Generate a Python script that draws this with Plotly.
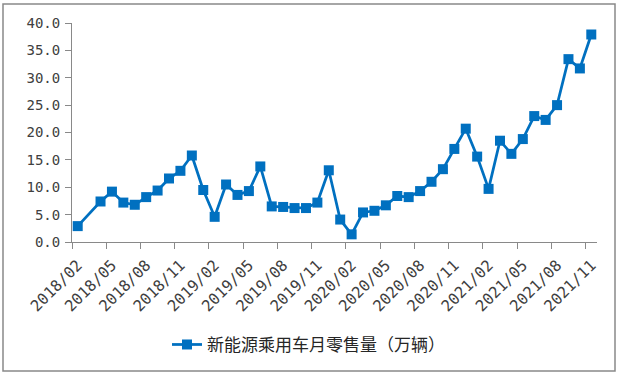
import plotly.graph_objects as go

months = []
for y in range(2018, 2022):
    for m in range(1, 13):
        if (y == 2018 and m < 2) or (y == 2021 and m > 11):
            continue
        months.append(f"{y}/{m:02d}")

values = [2.9, None, 7.4, 9.2, 7.2, 6.8, 8.2, 9.4, 11.6, 13.0, 15.8, 9.5,
          4.6, 10.5, 8.6, 9.3, 13.8, 6.5, 6.4, 6.2, 6.2, 7.2, 13.1, 4.1,
          1.4, 5.4, 5.7, 6.7, 8.4, 8.2, 9.3, 11.0, 13.3, 17.0, 20.7, 15.6,
          9.7, 18.5, 16.1, 18.8, 23.0, 22.3, 25.0, 33.4, 31.7, 37.9]

series_name = "新能源乘用车月零售量（万辆）"
y_ticks = [0, 5, 10, 15, 20, 25, 30, 35, 40]

idx = list(range(len(months)))
label_idx = idx[::3]
label_text = [months[i] for i in label_idx]

blue = "#0070C0"
axis_col = "#898989"
text_col = "#404040"
y_font = dict(family="DejaVu Sans Mono", size=14, color=text_col)
x_font = dict(family="DejaVu Sans Mono", size=15.5, color=text_col)

fig = go.Figure()
fig.add_trace(go.Scatter(
    x=idx, y=values, mode="lines+markers", name=series_name,
    connectgaps=True,
    line=dict(color=blue, width=2.75),
    marker=dict(symbol="square", size=10, color=blue),
))

fig.update_layout(
    width=620, height=377,
    margin=dict(l=72, r=23, t=23, b=135),
    paper_bgcolor="white", plot_bgcolor="white",
    font=y_font,
    showlegend=True,
    legend=dict(orientation="h", x=0.4505, xanchor="center", y=-0.47, yanchor="middle",
                font=dict(family="Noto Sans CJK SC", size=17, color="#262626"),
                itemwidth=30),
    xaxis=dict(range=[-0.5, len(months) - 0.5], tickmode="array",
               tickvals=label_idx, ticktext=label_text, tickangle=-45,
               ticks="", showgrid=False, zeroline=False,
               showline=True, linecolor=axis_col, linewidth=1,
               ticklabelstandoff=7,
               minor=dict(tickmode="array", tickvals=[i - 0.5 for i in label_idx],
                          ticks="outside", ticklen=6, tickcolor=axis_col, showgrid=False),
               tickfont=x_font),
    yaxis=dict(range=[0, 40], tickmode="array", tickvals=y_ticks,
               ticktext=[f"{v:.1f}" for v in y_ticks],
               ticks="outside", ticklen=6, tickcolor=axis_col,
               showgrid=False, zeroline=False,
               showline=True, linecolor=axis_col, linewidth=1,
               ticklabelstandoff=2,
               tickfont=y_font),
    shapes=[dict(type="rect", xref="paper", yref="paper",
                 x0=(3 - 72) / 525, x1=(615 - 72) / 525,
                 y0=(242 - 371) / 219, y1=(242 - 4) / 219,
                 line=dict(color=axis_col, width=1.5), fillcolor="rgba(0,0,0,0)",
                 layer="below")],
)

fig.write_html("out.html")
